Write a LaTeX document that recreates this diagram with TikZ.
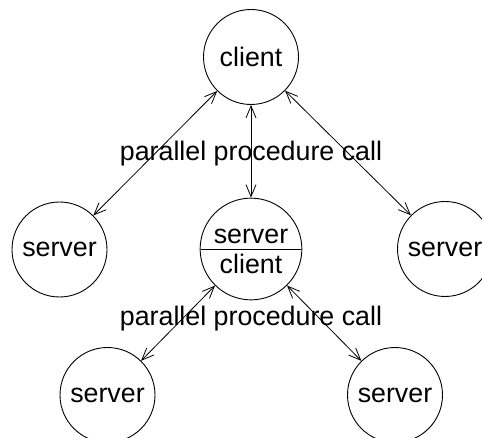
\documentclass[tikz,border=0pt]{standalone}
\usepackage{fontspec}
\setmainfont{Liberation Sans}
\usetikzlibrary{shapes.multipart, arrows.meta, positioning}

\begin{document}
\begin{tikzpicture}[
    x=1pt, y=-1pt,
    proc/.style={circle, draw, line width=0.9pt, minimum size=95pt, inner sep=2pt, font=\fontsize{26.8}{28}\selectfont},
    splitproc/.style={proc, circle split, inner sep=4.5pt},
    callarrow/.style={{Straight Barb[length=12pt,width=10pt]}-{Straight Barb[length=12pt,width=10pt]}, line width=0.8pt},
    calltext/.style={inner sep=0pt, font=\fontsize{26.8}{28}\selectfont}
]
    \useasboundingbox (0,0) rectangle (482,438);
    \clip (0,0) rectangle (482,438);

    % Top client
    \node[proc] (client) at (251,57) {client};

    % Middle row
    \node[proc] (srvL) at (59.5,249.5) {server};
    \node[splitproc] (mid) at (251,249) {server \nodepart{lower} client};
    \node[proc] (srvR) at (445,249) {server};

    % Bottom row
    \node[proc] (srvBL) at (107.5,395) {server};
    \node[proc] (srvBR) at (395,395) {server};

    % Labels
    \node[calltext] (call1) at (251,154) {parallel procedure call};
    \node[calltext] (call2) at (251,319) {parallel procedure call};

    % Calls from client
    \draw[callarrow] (client) -- (srvL);
    \draw[callarrow] (client) -- (mid);
    \draw[callarrow] (client) -- (srvR);

    % Calls from middle
    \draw[callarrow] (mid) -- (srvBL);
    \draw[callarrow] (mid) -- (srvBR);

\end{tikzpicture}
\end{document}
